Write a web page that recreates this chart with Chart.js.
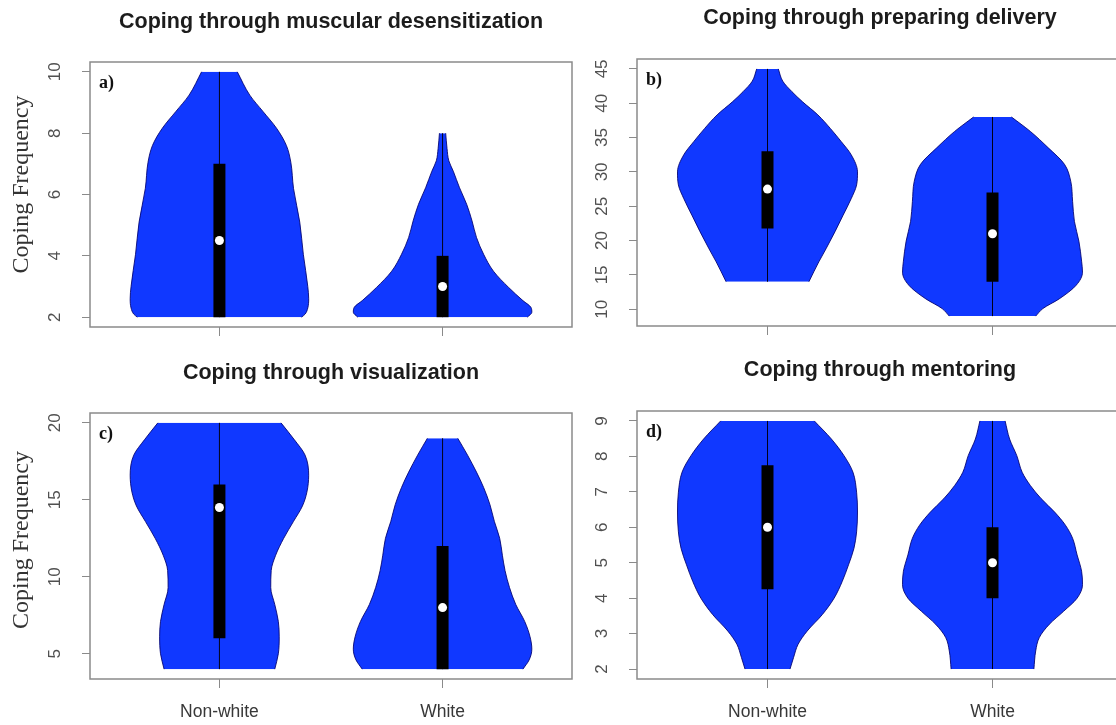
<!DOCTYPE html>
<html>
<head>
<meta charset="utf-8">
<script src="https://cdn.jsdelivr.net/npm/chart.js@4.4.1/dist/chart.umd.min.js"></script>
<style>
html,body{margin:0;padding:0;background:#fff;overflow:hidden;width:1116px;height:725px;position:relative}
canvas{position:absolute}
</style>
</head>
<body>
<canvas id="pa" width="600" height="345" style="left:0;top:0"></canvas>
<canvas id="pb" width="600" height="345" style="left:560px;top:0"></canvas>
<canvas id="pc" width="600" height="375" style="left:0;top:350px"></canvas>
<canvas id="pd" width="600" height="375" style="left:560px;top:350px"></canvas>
<script>
// ---------------- DATA ----------------
const categories = ['Non-white', 'White'];
const titles = ['Coping through muscular desensitization', 'Coping through preparing delivery',
                'Coping through visualization', 'Coping through mentoring'];
const panelLetters = ['a)', 'b)', 'c)', 'd)'];
const yAxisTitle = 'Coping Frequency';

const yTicksA = [2, 4, 6, 8, 10];
const yTicksB = [10, 15, 20, 25, 30, 35, 40, 45];
const yTicksC = [5, 10, 15, 20];
const yTicksD = [2, 3, 4, 5, 6, 7, 8, 9];

// Violin density profiles: levels (score values) and relative half-widths (max = 1)
const levelsA_NW = [2, 2.1, 2.3, 2.6, 3.0, 4.05, 5.1, 6.2, 7.05, 7.6, 8.16, 8.7, 9.24, 10];
const densA_NW   = [0.92, 0.96, 0.99, 1.0, 0.99, 0.94, 0.90, 0.83, 0.80, 0.75, 0.64, 0.49, 0.34, 0.20];
const levelsA_W  = [2, 2.16, 2.32, 2.54, 2.97, 3.5, 4.05, 4.6, 5.14, 5.68, 6.22, 6.76, 7.1, 7.5, 8];
const densA_W    = [0.95, 1.0, 0.99, 0.90, 0.74, 0.57, 0.46, 0.38, 0.33, 0.27, 0.19, 0.12, 0.07, 0.05, 0.035];

const levelsB_NW = [14, 16.9, 18.8, 21.3, 23.7, 26.1, 28.1, 30, 32.5, 34.4, 36.3, 38.3, 40.2, 41.7, 43.2, 45];
const densB_NW   = [0.46, 0.57, 0.65, 0.75, 0.84, 0.93, 0.99, 1.0, 0.93, 0.82, 0.70, 0.56, 0.39, 0.27, 0.17, 0.12];
const levelsB_W  = [9, 10.1, 11.5, 13.5, 15.4, 17, 19.9, 22.8, 25.7, 28.6, 31.1, 33.5, 35.9, 38];
const densB_W    = [0.48, 0.56, 0.74, 0.93, 1.0, 0.99, 0.96, 0.91, 0.89, 0.87, 0.80, 0.62, 0.42, 0.21];

const levelsC_NW = [4, 5, 6.1, 7.1, 8.2, 9.3, 10.4, 11.4, 12.5, 13.6, 14.6, 15.5, 16.6, 17.9, 18.9, 20];
const densC_NW   = [0.62, 0.66, 0.67, 0.66, 0.62, 0.575, 0.58, 0.63, 0.72, 0.83, 0.93, 0.98, 1.0, 0.96, 0.84, 0.69];
const levelsC_W  = [4, 4.6, 5.3, 6.1, 7.1, 8.2, 9.3, 10.4, 11.4, 12.5, 13.6, 14.7, 15.8, 16.8, 17.9, 19];
const densC_W    = [0.90, 0.97, 1.0, 0.98, 0.92, 0.82, 0.75, 0.70, 0.67, 0.64, 0.58, 0.53, 0.46, 0.38, 0.28, 0.17];

const levelsD_NW = [2, 2.33, 2.7, 3.07, 3.54, 4, 4.47, 4.94, 5.4, 5.87, 6.43, 6.99, 7.55, 8.02, 8.49, 9];
const densD_NW   = [0.25, 0.29, 0.34, 0.44, 0.61, 0.74, 0.83, 0.90, 0.96, 0.99, 1.0, 0.99, 0.95, 0.85, 0.71, 0.52];
const levelsD_W  = [2, 2.51, 2.89, 3.26, 3.63, 4, 4.38, 4.76, 5.22, 5.69, 6.06, 6.43, 6.81, 7.18, 7.55, 8.02, 8.49, 9];
const densD_W    = [0.46, 0.48, 0.52, 0.63, 0.79, 0.94, 1.0, 0.99, 0.94, 0.89, 0.81, 0.69, 0.54, 0.42, 0.33, 0.27, 0.19, 0.14];

// Box summaries: [q1, median, q3]
const boxA_NW = [2, 4.5, 7];     const boxA_W = [2, 3, 4];
const boxB_NW = [21.75, 27.5, 33]; const boxB_W = [14, 21, 27];
const boxC_NW = [6, 14.5, 16];   const boxC_W = [4, 8, 12];
const boxD_NW = [4.25, 6, 7.75]; const boxD_W = [4, 5, 6];

// ---------------- STYLE / LAYOUT ----------------
const VIOLIN_FILL = 'rgb(16,56,255)';
const VIOLIN_EDGE = 'rgba(0,0,110,0.85)';
const WEX = 0.4;          // max half-width of a violin (x units)
const X_MIN = 0.42, X_MAX = 2.58;

const panels = [
  { id: 'pa', title: titles[0], letter: panelLetters[0], yTicks: yTicksA, yMin: 1.68, yMax: 10.32,
    v: [[levelsA_NW, densA_NW, boxA_NW], [levelsA_W, densA_W, boxA_W]],
    L: 90, T: 62, R: 28, B: 18, titleDY: -40, yTitle: true, yTitleDY: -10, xLabels: false },
  { id: 'pb', title: titles[1], letter: panelLetters[1], yTicks: yTicksB, yMin: 7.56, yMax: 46.44,
    v: [[levelsB_NW, densB_NW, boxB_NW], [levelsB_W, densB_W, boxB_W]],
    L: 77, T: 59, R: 37, B: 19, titleDY: -41, yTitle: false, xLabels: false },
  { id: 'pc', title: titles[2], letter: panelLetters[2], yTicks: yTicksC, yMin: 3.36, yMax: 20.64,
    v: [[levelsC_NW, densC_NW, boxC_NW], [levelsC_W, densC_W, boxC_W]],
    L: 90, T: 63, R: 28, B: 46, titleDY: -40, yTitle: true, yTitleDY: -6, xLabels: true },
  { id: 'pd', title: titles[3], letter: panelLetters[3], yTicks: yTicksD, yMin: 1.72, yMax: 9.28,
    v: [[levelsD_NW, densD_NW, boxD_NW], [levelsD_W, densD_W, boxD_W]],
    L: 77, T: 61, R: 37, B: 46, titleDY: -41, yTitle: true === false, xLabels: true }
];

function violinDatasets(levels, dens, box, center) {
  const half = (sign) => ({
    data: levels.map((lv, k) => ({ x: center + sign * WEX * dens[k], y: lv })),
    fill: { value: center },
    backgroundColor: VIOLIN_FILL,
    borderColor: VIOLIN_EDGE,
    borderWidth: 1,
    pointRadius: 0,
    cubicInterpolationMode: 'monotone',
    order: 3
  });
  return [
    half(1), half(-1),
    { data: [{ x: center, y: levels[0] }, { x: center, y: levels[levels.length - 1] }],
      borderColor: '#000018', borderWidth: 1, pointRadius: 0, fill: false, order: 2 },
    { data: [{ x: center, y: box[0] }, { x: center, y: box[2] }],
      borderColor: '#000', borderWidth: 12, borderCapStyle: 'butt', pointRadius: 0, fill: false, order: 1 },
    { data: [{ x: center, y: box[1] }], showLine: false, pointRadius: 4.5,
      pointBackgroundColor: '#fff', pointBorderColor: '#fff', pointBorderWidth: 0, order: 0 }
  ];
}

function makeDecor(p) {
  return {
    id: 'decor',
    afterDraw(chart) {
      const { ctx, chartArea: a, scales: { x, y } } = chart;
      ctx.save();
      // plot box
      ctx.strokeStyle = '#8a8a8a';
      ctx.lineWidth = 1.5;
      ctx.strokeRect(a.left, a.top, a.right - a.left, a.bottom - a.top);
      // title
      ctx.fillStyle = '#1c1c1c';
      ctx.font = 'bold 21.5px "Liberation Sans", Arial, sans-serif';
      ctx.textAlign = 'center';
      ctx.textBaseline = 'middle';
      ctx.fillText(p.title, (a.left + a.right) / 2, a.top + p.titleDY);
      // panel letter
      ctx.font = 'bold 18px "Liberation Serif", "Times New Roman", serif';
      ctx.textAlign = 'left';
      ctx.fillStyle = '#111';
      ctx.fillText(p.letter, a.left + 9, a.top + 21);
      // y tick labels (rotated, R style)
      ctx.font = '17px "Liberation Sans", Arial, sans-serif';
      ctx.fillStyle = '#505050';
      y.ticks.forEach(t => {
        const py = y.getPixelForValue(t.value);
        ctx.save();
        ctx.translate(a.left - 35, py);
        ctx.rotate(-Math.PI / 2);
        ctx.textAlign = 'center';
        ctx.textBaseline = 'middle';
        ctx.fillText(String(t.value), 0, 0);
        ctx.restore();
      });
      // y axis title
      if (p.yTitle) {
        ctx.save();
        ctx.font = '24px "Liberation Serif", "Times New Roman", serif';
        ctx.fillStyle = '#333';
        ctx.translate(a.left - 68, (a.top + a.bottom) / 2 + p.yTitleDY);
        ctx.rotate(-Math.PI / 2);
        ctx.textAlign = 'center';
        ctx.textBaseline = 'middle';
        ctx.fillText(yAxisTitle, 0, 0);
        ctx.restore();
      }
      // x category labels
      if (p.xLabels) {
        ctx.font = '17.5px "Liberation Sans", Arial, sans-serif';
        ctx.fillStyle = '#383838';
        ctx.textAlign = 'center';
        ctx.textBaseline = 'middle';
        categories.forEach((c, i) => ctx.fillText(c, x.getPixelForValue(i + 1), a.bottom + 33));
      }
      ctx.restore();
    }
  };
}

panels.forEach(p => {
  const datasets = [];
  p.v.forEach((vv, i) => datasets.push(...violinDatasets(vv[0], vv[1], vv[2], i + 1)));
  new Chart(document.getElementById(p.id), {
    type: 'line',
    data: { datasets },
    options: {
      indexAxis: 'y',
      responsive: false,
      animation: false,
      events: [],
      layout: { padding: { left: 0, top: p.T, right: p.R, bottom: 0 } },
      plugins: { legend: { display: false }, tooltip: { enabled: false }, title: { display: false } },
      scales: {
        x: {
          type: 'linear', min: X_MIN, max: X_MAX,
          afterBuildTicks: s => { s.ticks = categories.map((c, i) => ({ value: i + 1 })); },
          afterFit: s => { s.height = p.B; },
          ticks: { display: false },
          grid: { drawOnChartArea: false, drawTicks: true, tickLength: 9, color: '#8a8a8a', lineWidth: 1 },
          border: { display: false }
        },
        y: {
          type: 'linear', min: p.yMin, max: p.yMax,
          afterBuildTicks: s => { s.ticks = p.yTicks.map(v => ({ value: v })); },
          afterFit: s => { s.width = p.L; },
          ticks: { display: false },
          grid: { drawOnChartArea: false, drawTicks: true, tickLength: 8, color: '#8a8a8a', lineWidth: 1 },
          border: { display: false }
        }
      }
    },
    plugins: [makeDecor(p)]
  });
});
</script>
</body>
</html>
